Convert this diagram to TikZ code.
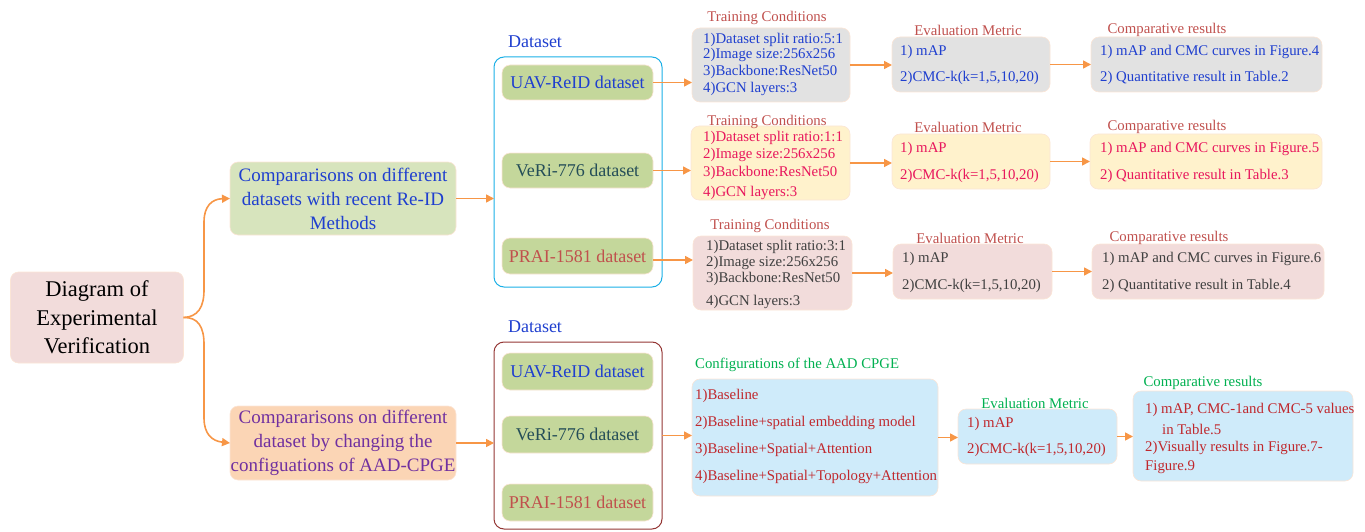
\documentclass[tikz,border=0pt]{standalone}
\usepackage{fontspec}
\setmainfont{Liberation Serif}
\usetikzlibrary{arrows.meta,calc}
\definecolor{arrowc}{HTML}{F79646}
\definecolor{edge}{HTML}{FBE5D6}
\definecolor{mainfill}{HTML}{F2DCDB}
\definecolor{gfill}{HTML}{D7E4BD}
\definecolor{ofill}{HTML}{FBD5B5}
\definecolor{dfill}{HTML}{C4D79B}
\definecolor{grayfill}{HTML}{E2E2E2}
\definecolor{yfill}{HTML}{FFF2CC}
\definecolor{pfill}{HTML}{F2DCDB}
\definecolor{bfill}{HTML}{CFEBFA}
\definecolor{blueline}{HTML}{1AAFE6}
\definecolor{redline}{HTML}{943634}
\definecolor{labred}{HTML}{C0504D}
\definecolor{labgreen}{HTML}{00B050}
\definecolor{tblue}{HTML}{1F3FCF}
\definecolor{tcrim}{HTML}{E8175D}
\definecolor{tgray}{HTML}{404040}
\definecolor{tpurple}{HTML}{7030A0}
\definecolor{tdred}{HTML}{C0282D}
\definecolor{tteal}{HTML}{254E58}
\tikzset{
  box/.style={rounded corners=8pt, draw=edge, line width=0.6pt, inner sep=0pt, outer sep=0pt},
  frame/.style={rounded corners=10pt, line width=1pt, inner sep=0pt, outer sep=0pt},
  arr/.style={draw=arrowc, line width=1.6pt, -{Triangle[length=8pt,width=8pt]}},
  txt/.style={inner sep=0pt, anchor=west, font=\fontsize{14.8}{17}\selectfont},
  lab/.style={inner sep=0pt, font=\fontsize{14.8}{17}\selectfont},
  dsbox/.style={box, fill=dfill, minimum width=151pt, font=\fontsize{18}{21}\selectfont},
}
\begin{document}
\begin{tikzpicture}[x=1pt,y=-1pt]
\useasboundingbox (0,0) rectangle (1365,532);
% main
\node[box, fill=mainfill, minimum width=173pt, minimum height=91pt, align=center,
      font=\fontsize{22.5}{28.5}\selectfont] (main) at (97,317.5) {Diagram of\\Experimental\\Verification};
\node[box, fill=gfill, minimum width=226pt, minimum height=73pt, align=center, text=tblue,
      font=\fontsize{19}{24}\selectfont] (g) at (343,198.5) {Compararisons on different\\datasets with recent Re-ID\\Methods};
\node[box, fill=ofill, minimum width=226pt, minimum height=74pt, align=center, text=tpurple,
      font=\fontsize{19}{24}\selectfont] (o) at (343,443) {Compararisons on different\\dataset by changing the\\configuations of AAD-CPGE};
\draw[arr] (main.east) .. controls (198,317) and (204,307) .. (204,290) -- (204,222) .. controls (204,206) and (212,199) .. (g.west);
\draw[arr] (main.east) .. controls (198,317) and (204,327) .. (204,344) -- (204,418) .. controls (204,434) and (212,441) .. (o.west);

% top dataset group
\node[frame, draw=blueline, minimum width=168pt, minimum height=230pt] (ds1) at (578,172) {};
\node[lab, text=tblue, font=\fontsize{18}{21}\selectfont] (dl1) at (535,42) {Dataset};
\node[dsbox, minimum height=35pt, text=tblue] (u1) at (577.5,82.5) {UAV-ReID dataset};
\node[dsbox, minimum height=35pt, text=tteal] (v1) at (577.5,170.5) {VeRi-776 dataset};
\node[dsbox, minimum height=36pt, text=labred] (p1) at (577.5,256) {PRAI-1581 dataset};
\draw[arr] (g.east) -- (g.east -| ds1.west);

% training boxes
\node[box, fill=grayfill, minimum width=158pt, minimum height=74pt] (t1) at (771,65) {};
\node[box, fill=yfill, minimum width=159pt, minimum height=74pt] (t2) at (770.5,163) {};
\node[box, fill=pfill, minimum width=159pt, minimum height=74pt] (t3) at (772.5,273) {};
\node[lab, text=labred] (tl1) at (767,18) {Training Conditions};
\node[lab, text=labred] (tl2) at (767,122) {Training Conditions};
\node[lab, text=labred] (tl3) at (770,226) {Training Conditions};
\node[txt, text=tblue] (t1a) at (703,40) {1)Dataset split ratio:5:1};
\node[txt, text=tblue] (t1b) at (703,55) {2)Image size:256x256};
\node[txt, text=tblue] (t1c) at (703,72) {3)Backbone:ResNet50};
\node[txt, text=tblue] (t1d) at (703,89) {4)GCN layers:3};
\node[txt, text=tcrim] (t2a) at (703,138) {1)Dataset split ratio:1:1};
\node[txt, text=tcrim] (t2b) at (703,155) {2)Image size:256x256};
\node[txt, text=tcrim] (t2c) at (703,173) {3)Backbone:ResNet50};
\node[txt, text=tcrim] (t2d) at (703,193) {4)GCN layers:3};
\node[txt, text=tgray] (t3a) at (706,247) {1)Dataset split ratio:3:1};
\node[txt, text=tgray] (t3b) at (706,263) {2)Image size:256x256};
\node[txt, text=tgray] (t3c) at (706,279) {3)Backbone:ResNet50};
\node[txt, text=tgray] (t3d) at (706,302) {4)GCN layers:3};
\draw[arr] (u1.east) -- (u1.east -| t1.west);
\draw[arr] (v1.east) -- (v1.east -| t2.west);
\draw[arr] ($(p1.east)+(0,4)$) -- ($(p1.east -| t3.west)+(0,4)$);

% evaluation boxes
\node[box, fill=grayfill, minimum width=158pt, minimum height=55pt] (e1) at (971,64.5) {};
\node[box, fill=yfill, minimum width=158pt, minimum height=55pt] (e2) at (971,161.5) {};
\node[box, fill=pfill, minimum width=159pt, minimum height=55pt] (e3) at (972.5,271.5) {};
\node[lab, text=labred] (el1) at (968,30) {Evaluation Metric};
\node[lab, text=labred] (el2) at (968,127) {Evaluation Metric};
\node[lab, text=labred] (el3) at (970,238) {Evaluation Metric};
\node[txt, text=tblue] (e1a) at (900,52) {1) mAP};
\node[txt, text=tblue] (e1b) at (900,78) {2)CMC-k(k=1,5,10,20)};
\node[txt, text=tcrim] (e2a) at (900,149) {1) mAP};
\node[txt, text=tcrim] (e2b) at (900,176) {2)CMC-k(k=1,5,10,20)};
\node[txt, text=tgray] (e3a) at (902,259) {1) mAP};
\node[txt, text=tgray] (e3b) at (902,286) {2)CMC-k(k=1,5,10,20)};
\draw[arr] (t1.east) -- (t1.east -| e1.west);
\draw[arr] (t2.east) -- (t2.east -| e2.west);
\draw[arr] (t3.east) -- (t3.east -| e3.west);

% comparative boxes
\node[box, fill=grayfill, minimum width=231pt, minimum height=55pt] (c1) at (1206.5,64.5) {};
\node[box, fill=yfill, minimum width=232pt, minimum height=55pt] (c2) at (1206,161.5) {};
\node[box, fill=pfill, minimum width=232pt, minimum height=55pt] (c3) at (1208,271.5) {};
\node[lab, text=labred] (cl1) at (1167,30) {Comparative results};
\node[lab, text=labred] (cl2) at (1167,127) {Comparative results};
\node[lab, text=labred] (cl3) at (1169,238) {Comparative results};
\node[txt, text=tblue] (c1a) at (1100,52) {1) mAP and CMC curves in Figure.4};
\node[txt, text=tblue] (c1b) at (1100,78) {2) Quantitative result in Table.2};
\node[txt, text=tcrim] (c2a) at (1100,149) {1) mAP and CMC curves in Figure.5};
\node[txt, text=tcrim] (c2b) at (1100,176) {2) Quantitative result in Table.3};
\node[txt, text=tgray] (c3a) at (1102,259) {1) mAP and CMC curves in Figure.6};
\node[txt, text=tgray] (c3b) at (1102,286) {2) Quantitative result in Table.4};
\draw[arr] (e1.east) -- (e1.east -| c1.west);
\draw[arr] (e2.east) -- (e2.east -| c2.west);
\draw[arr] (e3.east) -- (e3.east -| c3.west);

% bottom dataset group
\node[frame, draw=redline, minimum width=168pt, minimum height=187pt] (ds2) at (578,435.5) {};
\node[lab, text=tblue, font=\fontsize{18}{21}\selectfont] (dl2) at (535,327) {Dataset};
\node[dsbox, minimum height=37pt, text=tblue] (u2) at (577.5,371.5) {UAV-ReID dataset};
\node[dsbox, minimum height=37pt, text=tteal] (v2) at (577.5,434.5) {VeRi-776 dataset};
\node[dsbox, minimum height=37pt, text=labred] (p2) at (577.5,502.5) {PRAI-1581 dataset};
\draw[arr] (o.east) -- (o.east -| ds2.west);

% configurations
\node[box, fill=bfill, minimum width=246pt, minimum height=117pt] (cf) at (815,437.5) {};
\node[lab, anchor=west, text=labgreen] (cfl) at (695,365) {Configurations of the AAD CPGE};
\node[txt, text=tdred] (cfa) at (695,396) {1)Baseline};
\node[txt, text=tdred] (cfb) at (695,423) {2)Baseline+spatial embedding model};
\node[txt, text=tdred] (cfc) at (695,450) {3)Baseline+Spatial+Attention};
\node[txt, text=tdred] (cfd) at (695,477) {4)Baseline+Spatial+Topology+Attention};
\draw[arr] (ds2.east) -- (ds2.east -| cf.west);

\node[box, fill=bfill, minimum width=159pt, minimum height=55pt] (eb) at (1037.5,436.5) {};
\node[lab, text=labgreen] (ebl) at (1035,403) {Evaluation Metric};
\node[txt, text=tdred] (eba) at (967,424) {1) mAP};
\node[txt, text=tdred] (ebb) at (967,450) {2)CMC-k(k=1,5,10,20)};
\draw[arr] (cf.east) -- (cf.east -| eb.west);

\node[box, fill=bfill, minimum width=220pt, minimum height=90pt] (cb) at (1243,436) {};
\node[lab, text=labgreen] (cbl) at (1203,383) {Comparative results};
\node[txt, text=tdred] (cba) at (1145,410) {1) mAP, CMC-1and CMC-5 values};
\node[txt, text=tdred] (cbb) at (1162,429) {in Table.5};
\node[txt, text=tdred] (cbc) at (1145,448) {2)Visually results in Figure.7-};
\node[txt, text=tdred] (cbd) at (1145,467) {Figure.9};
\draw[arr] (eb.east) -- (eb.east -| cb.west);
\end{tikzpicture}
\end{document}
